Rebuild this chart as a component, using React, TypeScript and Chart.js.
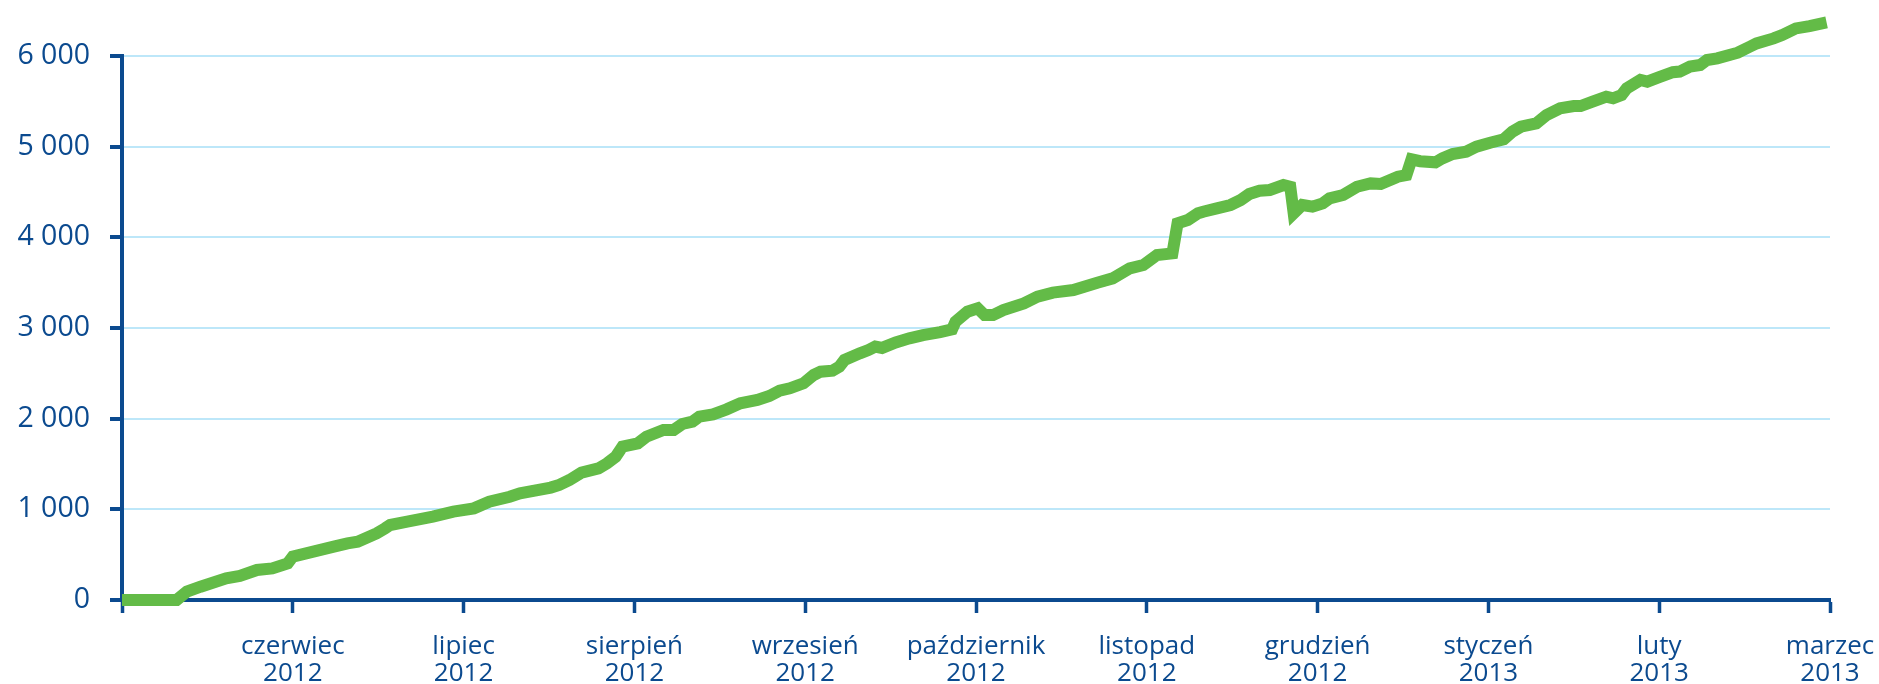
import { useEffect, useRef } from "react";
import { Chart, registerables } from "chart.js";

Chart.register(...registerables);

// x = months since start of May 2012 (tick 1 = czerwiec 2012 ... tick 10 = marzec 2013)
const xMonths = [
  0.0, 0.32, 0.38, 0.46, 0.61, 0.69, 0.79, 0.88, 0.97, 1.0, 1.12, 1.24, 1.32, 1.38, 1.49, 1.54, 1.57, 1.67,
  1.82, 1.94, 2.06, 2.15, 2.27, 2.33, 2.51, 2.56, 2.62, 2.69, 2.79, 2.84, 2.89, 2.93, 3.02, 3.07, 3.17, 3.23,
  3.28, 3.34, 3.38, 3.46, 3.54, 3.62, 3.72, 3.79, 3.85, 3.91, 3.99, 4.05, 4.09, 4.16, 4.2, 4.23, 4.32, 4.37,
  4.41, 4.45, 4.53, 4.61, 4.69, 4.79, 4.86, 4.88, 4.95, 5.01, 5.05, 5.1, 5.16, 5.28, 5.36, 5.45, 5.57, 5.71,
  5.8, 5.9, 5.98, 6.06, 6.15, 6.18, 6.24, 6.3, 6.33, 6.41, 6.49, 6.55, 6.6, 6.66, 6.72, 6.8, 6.84, 6.86, 6.91,
  6.97, 7.03, 7.07, 7.15, 7.23, 7.31, 7.37, 7.47, 7.52, 7.55, 7.6, 7.69, 7.73, 7.79, 7.87, 7.93, 8.01, 8.09,
  8.14, 8.19, 8.28, 8.34, 8.42, 8.5, 8.54, 8.61, 8.69, 8.73, 8.78, 8.81, 8.89, 8.93, 9.0, 9.08, 9.12, 9.18,
  9.24, 9.28, 9.34, 9.46, 9.53, 9.57, 9.67, 9.72, 9.8, 9.88, 9.98,
];
const totals = [
  0, 0, 92, 147, 239, 265, 331, 349, 404, 478, 533, 588, 625, 643, 735, 790, 827, 864,
  919, 974, 1011, 1084, 1139, 1176, 1240, 1270, 1323, 1405, 1452, 1507, 1580, 1691, 1728, 1801, 1875, 1875,
  1941, 1967, 2022, 2048, 2103, 2169, 2206, 2250, 2309, 2335, 2390, 2482, 2518, 2530, 2574, 2647, 2721, 2757,
  2795, 2780, 2840, 2886, 2922, 2955, 2985, 3070, 3180, 3217, 3143, 3143, 3198, 3272, 3345, 3390, 3419, 3500,
  3547, 3658, 3695, 3805, 3823, 4154, 4191, 4265, 4283, 4320, 4357, 4412, 4478, 4514, 4522, 4577, 4558, 4265, 4357,
  4338, 4375, 4430, 4467, 4558, 4595, 4588, 4669, 4687, 4860, 4840, 4827, 4871, 4919, 4944, 5000, 5044, 5081,
  5165, 5220, 5257, 5349, 5423, 5448, 5448, 5496, 5551, 5533, 5570, 5643, 5735, 5717, 5766, 5821, 5828, 5883,
  5901, 5956, 5974, 6036, 6102, 6139, 6194, 6231, 6304, 6330, 6370,
];

const monthLabels = ["", "czerwiec", "lipiec", "sierpień", "wrzesień", "październik", "listopad", "grudzień", "styczeń", "luty", "marzec"];
const yearLabels = ["", "2012", "2012", "2012", "2012", "2012", "2012", "2012", "2013", "2013", "2013"];
const yTicks = [0, 1000, 2000, 3000, 4000, 5000, 6000];

const GREEN = "#63bb47";
const BLUE = "#0b4a8f";
const GRID = "#bde7f9";
const FAMILY = "'Open Sans', 'Noto Sans', sans-serif";

function fmt(v: number) {
  return String(v).replace(/\B(?=(\d{3})+(?!\d))/g, " ");
}

export default function App() {
  const ref = useRef<HTMLCanvasElement>(null);
  useEffect(() => {
    const points = xMonths.map((x, i) => ({ x, y: totals[i] }));
    const chart = new Chart(ref.current!, {
      type: "line",
      data: {
        datasets: [
          {
            data: points,
            borderColor: GREEN,
            backgroundColor: GREEN,
            borderWidth: 12,
            pointRadius: 0,
            tension: 0,
            fill: false,
            clip: false as any,
          },
        ],
      },
      options: {
        responsive: false,
        animation: false,
        devicePixelRatio: 1,
        layout: { padding: { top: 56, right: 49, bottom: 0, left: 0 } },
        plugins: { legend: { display: false }, tooltip: { enabled: false } },
        scales: {
          x: {
            type: "linear",
            min: 0,
            max: 10,
            afterFit: (s: any) => {
              s.height = 84;
              s.paddingLeft = 0;
              s.paddingRight = 0;
            },
            border: { display: true, color: BLUE, width: 4 },
            grid: { drawOnChartArea: false, drawTicks: true, tickLength: 13, tickColor: BLUE, tickWidth: 3.5 },
            ticks: {
              stepSize: 1,
              autoSkip: false,
              maxRotation: 0,
              minRotation: 0,
              color: BLUE,
              font: { family: FAMILY, size: 26, lineHeight: 1.03 },
              padding: 20,
              callback: (v: any) => {
                const i = Math.round(Number(v));
                return monthLabels[i] ? [monthLabels[i], yearLabels[i]] : "";
              },
            },
          },
          y: {
            min: 0,
            max: 6000,
            afterFit: (s: any) => {
              s.width = 122;
            },
            afterBuildTicks: (s: any) => {
              s.ticks = yTicks.map((value) => ({ value }));
            },
            border: { display: true, color: BLUE, width: 4 },
            grid: { color: GRID, lineWidth: 2, drawTicks: true, tickLength: 12, tickColor: BLUE, tickWidth: 4 },
            ticks: {
              color: BLUE,
              font: { family: FAMILY, size: 28.5 },
              padding: 20,
              callback: (v: any) => fmt(Number(v)),
            },
          },
        },
      },
    });
    return () => chart.destroy();
  }, []);
  return (
    <div style={{ position: "absolute", left: 0, top: 0, width: 1879, height: 684, background: "#fff" }}>
      <canvas ref={ref} width={1879} height={684} style={{ display: "block" }} />
    </div>
  );
}
